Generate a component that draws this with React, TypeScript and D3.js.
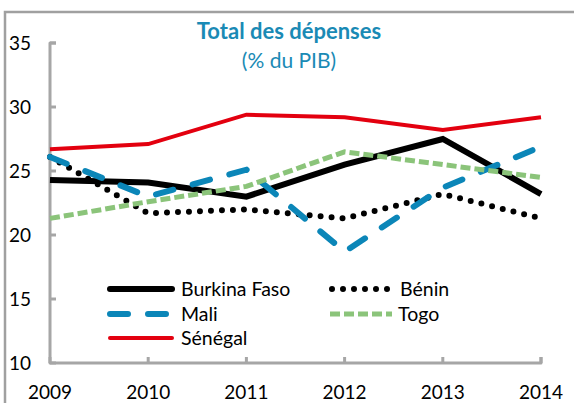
import React from "react";
import * as d3 from "d3";

const years = [2009, 2010, 2011, 2012, 2013, 2014];
const burkina = [24.3, 24.1, 23.0, 25.5, 27.5, 23.2];
const benin = [26.1, 21.7, 22.0, 21.3, 23.2, 21.3];
const mali = [26.1, 23.0, 25.1, 18.7, 23.7, 26.9];
const togo = [21.3, 22.6, 23.8, 26.5, 25.5, 24.5];
const senegal = [26.7, 27.1, 29.4, 29.2, 28.2, 29.2];
const yTicks = [10, 15, 20, 25, 30, 35];

const FONT = "Lato, 'Open Sans', sans-serif";

type S = { name: string; values: number[]; color: string; width: number; dash?: string; cap: string };

const series: S[] = [
  { name: "Burkina Faso", values: burkina, color: "#000000", width: 6, cap: "butt" },
  { name: "Bénin", values: benin, color: "#000000", width: 6, dash: "0 11", cap: "round" },
  { name: "Mali", values: mali, color: "#0b86b8", width: 6, dash: "18 20", cap: "round" },
  { name: "Togo", values: togo, color: "#8bc47a", width: 5, dash: "10 4", cap: "butt" },
  { name: "Sénégal", values: senegal, color: "#e3000f", width: 4, cap: "butt" },
];

export default function App() {
  const W = 574, H = 403;
  const x = d3.scaleLinear().domain([2009, 2014]).range([50, 541]);
  const y = d3.scaleLinear().domain([10, 35]).range([363, 43]);
  const line = d3
    .line<number>()
    .x((_, i) => x(years[i]))
    .y((d) => y(d));

  const legendItems = [
    { s: series[0], lx: 110, ly: 289 },
    { s: series[1], lx: 332, ly: 289 },
    { s: series[2], lx: 110, ly: 314 },
    { s: series[3], lx: 330, ly: 314 },
    { s: series[4], lx: 110, ly: 338 },
  ];

  return (
    <svg
      width={W}
      height={H}
      style={{ position: "absolute", left: 0, top: 0, background: "#fff" }}
      fontFamily={FONT}
    >
      <rect x={5} y={12} width={600} height={420} fill="#fff" stroke="#a0a0a0" strokeWidth={2.5} />
      <text x={289} y={39} textAnchor="middle" fontSize={22} fontWeight="bold" fill="#1a8ab5">
        Total des dépenses
      </text>
      <text x={289} y={68} textAnchor="middle" fontSize={21} fill="#1a8ab5">
        (% du PIB)
      </text>
      {/* axes */}
      <path
        d={`M${x(2009) + 6},${y(35)}H${x(2009)}V${y(10)}H${x(2014)}V${y(10) - 6}`}
        fill="none"
        stroke="#a6a6a6"
        strokeWidth={3}
        strokeLinejoin="round"
      />
      {yTicks.map((t) => (
        <g key={t}>
          <line x1={x(2009)} x2={x(2009) + 6} y1={y(t)} y2={y(t)} stroke="#a6a6a6" strokeWidth={3} />
          <text x={31} y={y(t)} dy="0.35em" textAnchor="end" fontSize={19} fill="#000">
            {t}
          </text>
        </g>
      ))}
      {years.map((yr) => (
        <g key={yr}>
          <line x1={x(yr)} x2={x(yr)} y1={y(10)} y2={y(10) - 6} stroke="#a6a6a6" strokeWidth={3} />
          <text x={x(yr)} y={399} textAnchor="middle" fontSize={19} fill="#000">
            {yr}
          </text>
        </g>
      ))}
      {series.map((s) => (
        <path
          key={s.name}
          d={line(s.values) || ""}
          fill="none"
          stroke={s.color}
          strokeWidth={s.width}
          strokeDasharray={s.dash}
          strokeLinecap={s.cap as any}
          strokeLinejoin="miter"
        />
      ))}
      {legendItems.map(({ s, lx, ly }) => (
        <g key={s.name}>
          <line
            x1={lx}
            x2={lx + 62}
            y1={ly}
            y2={ly}
            stroke={s.color}
            strokeWidth={s.width}
            strokeDasharray={s.dash}
            strokeLinecap={(s.dash ? s.cap : "round") as any}
          />
          <text x={lx + 71 + (lx > 300 ? -3 : 0)} y={ly} dy="0.35em" fontSize={19.5} fill="#000">
            {s.name}
          </text>
        </g>
      ))}
    </svg>
  );
}
